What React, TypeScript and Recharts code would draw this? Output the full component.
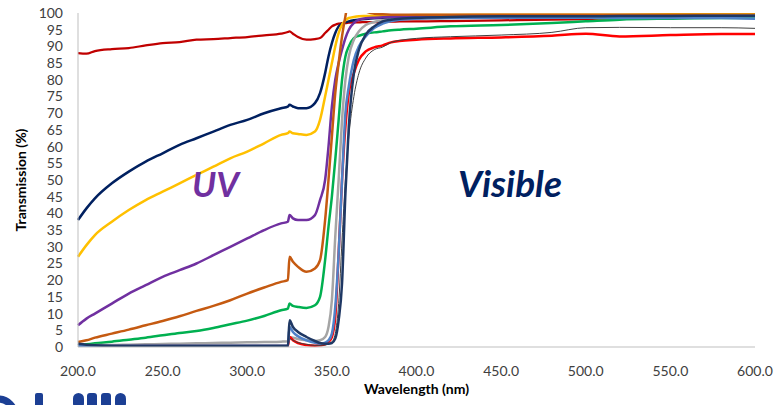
import React from 'react';
import { LineChart, Line, XAxis, YAxis } from 'recharts';

// wavelength grid (nm) shared by every series
const wavelengths = [
  200, 205, 210, 220, 230, 240, 250, 260, 270, 280,
  290, 300, 310, 320, 324, 325, 327, 330, 335, 340,
  343, 346, 348, 350, 352, 354, 356, 358, 360, 363,
  366, 370, 375, 380, 385, 390, 400, 420, 450, 480,
  500, 520, 550, 580, 600,
];

const darkRed = [
  88, 87.8, 88.6, 89.2, 89.5, 90.3, 91, 91.3, 92, 92.2,
  92.5, 92.8, 93.3, 93.8, 94.3, 94.5, 93.8, 92.8, 92, 92.2,
  92.5, 94, 95, 96, 96.5, 96.8, 97, 97, 97.1, 97.2,
  97.2, 97.3, 97.3, 97.4, 97.4, 97.5, 97.5, 97.6, 97.8, 98,
  98.2, 98.4, 98.5, 98.6, 98.6,
];
const navy = [
  38, 41.5, 44.5, 49, 52.5, 55.5, 58, 60.5, 62.5, 64.5,
  66.5, 68, 70, 71.5, 72, 72.5, 72, 71.5, 71.5, 73,
  76, 82, 87, 91, 94, 96, 96.8, 97.2, 97.5, 97.8,
  98, 98.2, 98.4, 98.5, 98.6, 98.7, 98.8, 98.9, 99, 99,
  99, 99.1, 99.1, 99.2, 99.2,
];
const yellow = [
  27, 30.5, 33.5, 37.5, 41, 44, 46.5, 49, 51.5, 54,
  56.5, 58.5, 61, 63.5, 64, 64.5, 64, 63.8, 63.5, 64.5,
  68, 75, 80, 85, 90, 94, 96.5, 97.8, 98.5, 98.8,
  99, 99.1, 99.2, 99.2, 99.3, 99.3, 99.4, 99.4, 99.5, 99.5,
  99.5, 99.5, 99.6, 99.6, 99.6,
];
const purple = [
  6.5, 8.5, 10, 13, 16, 18.5, 21, 23, 25, 27.5,
  30, 32.5, 35, 37, 37.5, 39.5, 38.5, 38, 38, 39.5,
  44, 50, 60, 72, 80, 85, 89, 92.5, 95, 97,
  98, 98.4, 98.6, 98.7, 98.8, 98.8, 98.9, 99, 99, 99,
  99.1, 99.1, 99.2, 99.2, 99.2,
];
const orange = [
  1.5, 2, 2.8, 4, 5.2, 6.5, 7.8, 9.2, 10.8, 12.3,
  14, 16, 17.8, 19.5, 20, 27, 25.5, 24, 22.5, 23.5,
  26, 38, 50, 63, 76, 85, 93, 99, 104, 104,
  102, 100.5, 99.8, 99.6, 99.5, 99.5, 99.5, 99.5, 99.5, 99.5,
  99.5, 99.5, 99.5, 99.5, 99.5,
];
const green = [
  0.5, 0.8, 1.1, 1.6, 2.2, 2.8, 3.5, 4.2, 4.8, 5.7,
  6.8, 7.9, 9.3, 11, 11.5, 13, 12.3, 12, 11.7, 12.5,
  15, 26, 36, 45, 56, 68, 80, 87, 90, 92.5,
  93.2, 93.8, 94.2, 94.5, 94.8, 95, 95.3, 96, 96.4, 97,
  97.5, 98, 98.3, 98.5, 98.5,
];
const gray = [
  0.5, 0.5, 0.6, 0.6, 0.7, 0.8, 0.9, 1, 1.1, 1.2,
  1.3, 1.4, 1.5, 1.6, 1.7, 3, 2.8, 2.4, 2, 1.8,
  2, 3, 6, 14, 33, 50, 68, 80, 87, 92,
  94.5, 96.4, 97.3, 97.8, 98, 98.1, 98.3, 98.5, 98.6, 98.8,
  98.9, 99, 99, 99.1, 99.1,
];
const red = [
  0.3, 0.3, 0.3, 0.3, 0.3, 0.3, 0.3, 0.3, 0.3, 0.3,
  0.3, 0.3, 0.3, 0.3, 0.3, 3, 2, 1.2, 0.6, 0.4,
  0.5, 0.8, 1.5, 3, 9, 28, 50, 66, 76, 82,
  86, 88.5, 89.7, 90.3, 91.2, 91.6, 92, 92.4, 92.7, 93.2,
  93.8, 93, 93.4, 93.7, 93.7,
];
const black = [
  0.5, 0.5, 0.5, 0.5, 0.5, 0.5, 0.5, 0.5, 0.5, 0.5,
  0.5, 0.5, 0.5, 0.5, 0.5, 2.5, 2, 1.3, 0.8, 0.5,
  0.5, 0.6, 0.9, 1.5, 4, 13, 32, 50, 63, 75,
  82, 86.5, 89, 89.8, 91.2, 91.8, 92.4, 92.9, 93.4, 94.2,
  95.6, 95.7, 95.6, 95.6, 95.4,
];
const blue = [
  0.4, 0.4, 0.4, 0.4, 0.4, 0.4, 0.4, 0.4, 0.4, 0.4,
  0.4, 0.4, 0.4, 0.4, 0.4, 6, 4.5, 3.2, 2, 1.3,
  1, 1.3, 2, 4, 12, 28, 50, 70, 78, 86,
  90, 93, 95.5, 96.8, 97.6, 98, 98.3, 98.5, 98.6, 98.6,
  98.6, 98.5, 98.5, 98.5, 98.3,
];
const lowNavy = [
  1, 0.7, 0.5, 0.3, 0.3, 0.3, 0.3, 0.3, 0.3, 0.3,
  0.3, 0.3, 0.3, 0.3, 0.3, 8, 6, 4.5, 3, 1.8,
  1.2, 1, 1, 1.2, 2.5, 8, 19, 46, 66, 82,
  89, 93.5, 96, 97.5, 98, 98.3, 98.6, 98.8, 99, 99,
  99, 99.1, 99.1, 99.2, 99.2,
];

const xTicks = [200, 250, 300, 350, 400, 450, 500, 550, 600];
const yTicks = [0, 5, 10, 15, 20, 25, 30, 35, 40, 45, 50, 55, 60, 65, 70, 75, 80, 85, 90, 95, 100];

const series = [
  { key: 'darkRed', values: darkRed, color: '#C00000', width: 2.25 },
  { key: 'navy', values: navy, color: '#002060', width: 2.5 },
  { key: 'yellow', values: yellow, color: '#FFC000', width: 2.5 },
  { key: 'purple', values: purple, color: '#7030A0', width: 2.5 },
  { key: 'orange', values: orange, color: '#C55A11', width: 2.5 },
  { key: 'green', values: green, color: '#00B050', width: 2.5 },
  { key: 'gray', values: gray, color: '#A5A5A5', width: 2.5 },
  { key: 'red', values: red, color: '#FF0000', width: 2.5 },
  { key: 'black', values: black, color: '#404040', width: 1 },
  { key: 'blue', values: blue, color: '#4F81C8', width: 2.5 },
  { key: 'lowNavy', values: lowNavy, color: '#1F3864', width: 2.5 },
];

const data = wavelengths.map((w, i) => {
  const row: Record<string, number> = { w };
  series.forEach(s => { row[s.key] = s.values[i]; });
  return row;
});

const font = 'Lato, "Open Sans", sans-serif';
const tickStyle = { fontSize: 14, fill: '#404040', fontFamily: font };

const App: React.FC = () => {
  return (
    <div style={{ position: 'absolute', left: 0, top: 0, width: 774, height: 405, background: '#fff' }}>
      <LineChart width={774} height={405} data={data} margin={{ top: 13, right: 19, bottom: 28, left: 0 }}>
        <XAxis
          dataKey="w"
          type="number"
          domain={[200, 600]}
          ticks={xTicks}
          tickFormatter={(v: number) => v.toFixed(1)}
          tick={tickStyle}
          tickLine={false}
          tickSize={0}
          tickMargin={19}
          height={30}
          stroke="#BFBFBF"
          label={{ value: 'Wavelength (nm)', position: 'insideBottom', offset: -17, fontSize: 14, fontWeight: 700, fill: '#000', fontFamily: font }}
        />
        <YAxis
          type="number"
          domain={[0, 100]}
          ticks={yTicks}
          allowDataOverflow
          interval={0}
          tick={tickStyle}
          tickLine={false}
          tickSize={0}
          tickMargin={15}
          width={78}
          stroke="#BFBFBF"
          label={{
            content: () => (
              <text x={22} y={180} transform="rotate(-90 22 180)" textAnchor="middle" dominantBaseline="middle"
                style={{ fontSize: 14, fontWeight: 700, fill: '#000', fontFamily: font }}>
                Transmission (%)
              </text>
            ),
          }}
        />
        {series.map(s => (
          <Line
            key={s.key}
            type="monotone"
            dataKey={s.key}
            stroke={s.color}
            strokeWidth={s.width}
            dot={false}
            activeDot={false}
            isAnimationActive={false}
          />
        ))}
      </LineChart>
      <svg width={774} height={405} style={{ position: 'absolute', left: 0, top: 0, pointerEvents: 'none' }}>
        <text x={192} y={197} style={{ fontSize: 35, fontWeight: 700, fontStyle: 'italic', fill: '#7030A0', fontFamily: font }}>UV</text>
        <text x={458} y={197} style={{ fontSize: 37, fontWeight: 700, fontStyle: 'italic', fill: '#002060', fontFamily: font }}>Visible</text>
        {/* cut-off logo at the bottom edge */}
        <circle cx={-2} cy={416} r={17} fill="none" stroke="#1C3F94" strokeWidth={7} />
        <rect x={35} y={393} width={8} height={14} rx={2} fill="#1C3F94" />
        <rect x={73} y={393} width={11} height={16} rx={5.5} fill="#1C3F94" />
        <rect x={87} y={393} width={10} height={16} rx={3} fill="#1C3F94" />
        <rect x={101} y={393} width={10} height={16} rx={3} fill="#1C3F94" />
        <rect x={115} y={393} width={11} height={16} rx={5.5} fill="#1C3F94" />
      </svg>
    </div>
  );
};

export default App;
